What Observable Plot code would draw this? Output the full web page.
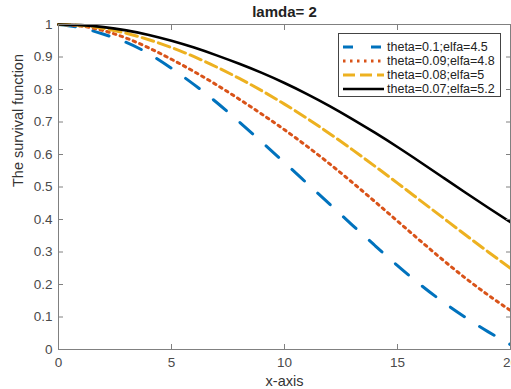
<!DOCTYPE html>
<html><head><meta charset="utf-8">
<script src="https://cdn.jsdelivr.net/npm/d3@7"></script>
<script src="https://cdn.jsdelivr.net/npm/@observablehq/plot@0.6"></script>
<style>
body{margin:0;background:#fff;font-family:"Liberation Sans",Arial,sans-serif;}
#wrap{position:relative;width:511px;height:389px;overflow:hidden;}
#legend{position:absolute;left:338px;top:33px;width:163px;height:64px;box-sizing:border-box;border:1px solid #444;background:#fff;font-size:12.5px;color:#222;}
.row{position:absolute;left:0;height:14px;line-height:14px;white-space:nowrap;}
.row svg{position:absolute;left:2px;top:0;}
.row span{position:absolute;left:48px;top:0;}
</style></head><body><div id="wrap"></div>
<script>
const xs = [0,1,2,3,4,5,6,7,8,9,10,11,12,13,14,15,16,17,18,19,20];
const seriesNames = ["theta=0.1;elfa=4.5","theta=0.09;elfa=4.8","theta=0.08;elfa=5","theta=0.07;elfa=5.2"];
const blueVals   = [1.0,0.99,0.97,0.945,0.91,0.865,0.815,0.76,0.70,0.638,0.575,0.511,0.447,0.383,0.32,0.258,0.2,0.147,0.099,0.055,0.015];
const redVals    = [1.0,0.995,0.981,0.958,0.928,0.893,0.855,0.814,0.77,0.724,0.676,0.625,0.571,0.514,0.455,0.395,0.335,0.276,0.22,0.168,0.12];
const yellowVals = [1.0,0.997,0.988,0.973,0.953,0.929,0.901,0.869,0.834,0.796,0.755,0.711,0.664,0.615,0.564,0.512,0.459,0.406,0.353,0.301,0.25];
const blackVals  = [1.0,0.998,0.992,0.982,0.968,0.95,0.929,0.905,0.879,0.851,0.82,0.786,0.749,0.709,0.667,0.623,0.577,0.53,0.483,0.437,0.392];
const xTicks = [0,5,10,15,20];
const yTicks = [0,0.1,0.2,0.3,0.4,0.5,0.6,0.7,0.8,0.9,1];
const titleText = "lamda= 2";
const xLabel = "x-axis";
const yLabel = "The survival function";

const colors = ["#0072BD","#D95319","#EDB120","#000000"];
const dashes = ["17,18","2.5,4.5","12,5",null];
const widths = [3,3,3,2.6];
const allVals = [blueVals, redVals, yellowVals, blackVals];

const lineMarks = allVals.map((vals, i) =>
  Plot.line(xs.map((x, j) => ({x, y: vals[j]})), {
    x: "x", y: "y", stroke: colors[i], strokeWidth: widths[i],
    strokeDasharray: dashes[i], curve: "natural"
  })
);

const axisColor = "#808080";
const textColor = "#4a4a4a";
const chart = Plot.plot({
  width: 511, height: 389,
  marginLeft: 58, marginRight: 1, marginTop: 24, marginBottom: 40,
  style: {fontFamily: '"Liberation Sans", Arial, sans-serif', background: "#fff", overflow: "visible"},
  x: {domain: [0, 20]},
  y: {domain: [0, 1]},
  marks: [
    ...lineMarks,
    Plot.frame({stroke: axisColor}),
    Plot.axisX({ticks: xTicks, tickSize: -5, tickPadding: 13, stroke: axisColor, color: textColor, fontSize: 13.5, label: null}),
    Plot.axisX({anchor: "top", ticks: xTicks, tickSize: -5, tickFormat: () => "", stroke: axisColor, label: null}),
    Plot.axisY({ticks: yTicks, tickSize: -5, tickPadding: 11, tickFormat: d => String(+d.toFixed(1)), stroke: axisColor, color: textColor, fontSize: 13.5, label: null}),
    Plot.axisY({anchor: "right", ticks: yTicks, tickSize: -5, tickFormat: () => "", stroke: axisColor, label: null}),
    Plot.text([titleText], {text: d => d, frameAnchor: "top", dy: -12, lineAnchor: "middle", fontWeight: "bold", fontSize: 15, fill: "#222"}),
    Plot.text([xLabel], {text: d => d, frameAnchor: "bottom", dy: 32, lineAnchor: "middle", fontSize: 14.5, fill: "#333"}),
    Plot.text([yLabel], {text: d => d, frameAnchor: "left", dx: -40, rotate: -90, lineAnchor: "middle", fontSize: 14.5, fill: "#333"})
  ]
});
const wrap = document.getElementById("wrap");
wrap.appendChild(chart);

const legend = document.createElement("div");
legend.id = "legend";
seriesNames.forEach((name, i) => {
  const row = document.createElement("div");
  row.className = "row";
  row.style.top = (6 + i * 14) + "px";
  row.style.width = "160px";
  const dash = dashes[i] ? ` stroke-dasharray="${i === 0 ? "10,18" : dashes[i]}"` : "";
  row.innerHTML = `<svg width="44" height="14"><line x1="2" y1="7" x2="43" y2="7" stroke="${colors[i]}" stroke-width="${widths[i]}"${dash}/></svg><span>${name}</span>`;
  legend.appendChild(row);
});
wrap.appendChild(legend);
</script></body></html>
